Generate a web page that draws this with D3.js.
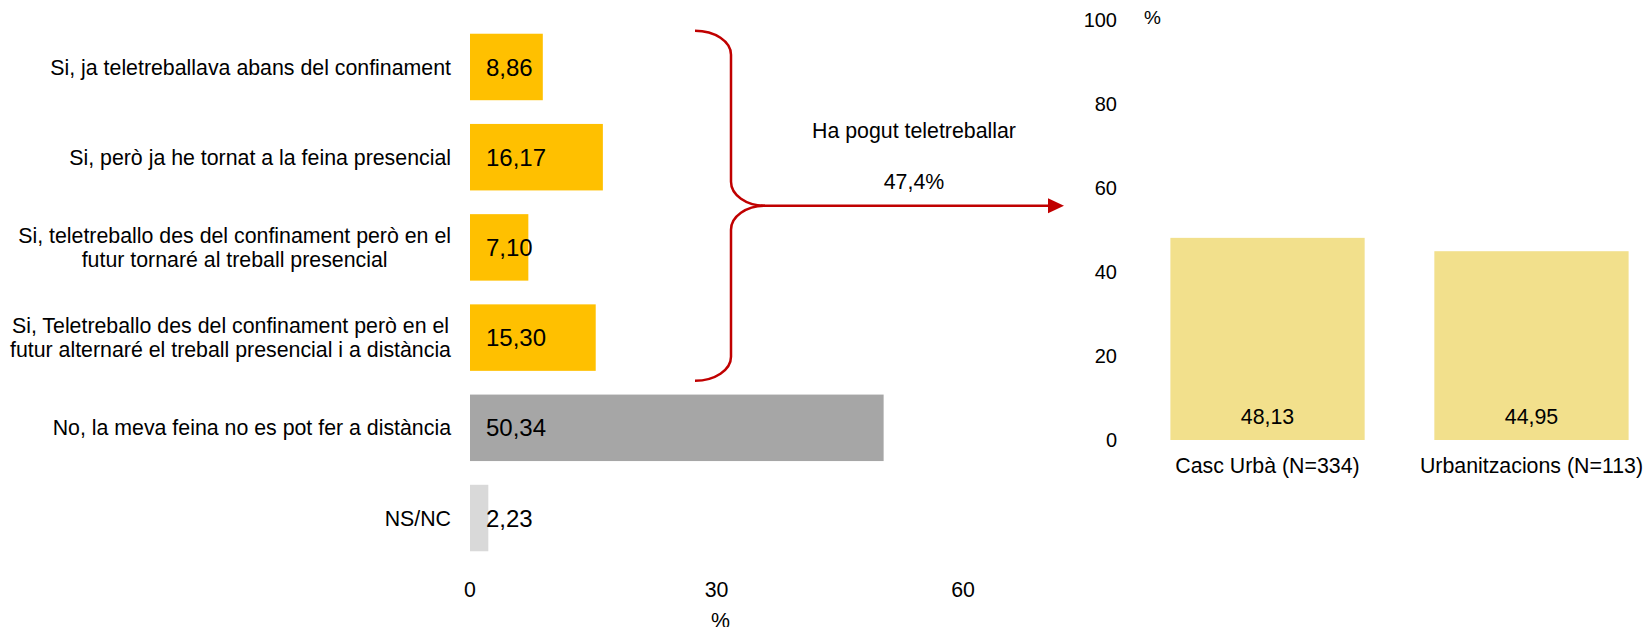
<!DOCTYPE html>
<html>
<head>
<meta charset="utf-8">
<script src="https://cdn.jsdelivr.net/npm/d3@7"></script>
<style>
  html, body { margin: 0; padding: 0; background: #fff; }
  svg { display: block; font-family: "Liberation Sans", Arial, sans-serif; }
</style>
</head>
<body>
<svg id="chart" width="1644" height="627"></svg>
<script>
// ---- data ----
const leftCategories = [
  "Si, ja teletreballava abans del confinament",
  "Si, però ja he tornat a la feina presencial",
  "Si, teletreballo des del confinament però en el\nfutur tornaré al treball presencial",
  "Si, Teletreballo des del confinament però en el\nfutur alternaré el treball presencial i a distància",
  "No, la meva feina no es pot fer a distància",
  "NS/NC"
];
const leftValues = [8.86, 16.17, 7.10, 15.30, 50.34, 2.23];
const leftColors = ["#FFC000", "#FFC000", "#FFC000", "#FFC000", "#A6A6A6", "#D9D9D9"];
const leftTicks = [0, 30, 60];

const rightCategories = ["Casc Urbà (N=334)", "Urbanitzacions (N=113)"];
const rightValues = [48.13, 44.95];
const rightTicks = [0, 20, 40, 60, 80, 100];

const annotationTitle = "Ha pogut teletreballar";
const groupedCount = 4; // first four categories are "Si"

(function () {
const fmt = v => d3.format(".2f")(v).replace(".", ",");
const svg = d3.select("#chart");
const FONT = 21.33;

// ---- left chart ----
const xL = d3.scaleLinear().domain([0, 60]).range([470, 963]);
const yL = d3.scaleBand().domain(leftCategories).range([22, 563]).paddingInner(0.263).paddingOuter(0.13);

svg.append("g").selectAll("rect").data(leftValues).join("rect")
  .attr("x", xL(0))
  .attr("y", (d, i) => yL(leftCategories[i]))
  .attr("width", d => xL(d) - xL(0))
  .attr("height", yL.bandwidth())
  .attr("fill", (d, i) => leftColors[i]);

svg.append("g").selectAll("text").data(leftValues).join("text")
  .attr("x", xL(0) + 16)
  .attr("y", (d, i) => yL(leftCategories[i]) + yL.bandwidth() / 2)
  .attr("dy", "0.36em")
  .attr("font-size", 24)
  .attr("fill", "#000")
  .text(d => fmt(d));

// category labels (multi-line, centered block, right aligned)
const labG = svg.append("g");
leftCategories.forEach((c, i) => {
  const lines = c.split("\n");
  const cy = yL(c) + yL.bandwidth() / 2;
  const lh = 24.3;
  const t = labG.append("text").attr("font-size", FONT).attr("fill", "#000").attr("text-anchor", "middle");
  const spans = lines.map((ln, j) => t.append("tspan").text(ln)
     .attr("y", cy + (j - (lines.length - 1) / 2) * lh).attr("dy", "0.36em"));
  const maxW = d3.max(spans, s => s.node().getComputedTextLength());
  const right = xL(0) - 19;
  spans.forEach(s => s.attr("x", right - maxW / 2));
});

// left x ticks
svg.append("g").selectAll("text").data(leftTicks).join("text")
  .attr("x", d => xL(d)).attr("y", 589).attr("dy", "0.36em")
  .attr("text-anchor", "middle").attr("font-size", FONT).attr("fill", "#000")
  .text(d => d);
svg.append("text").attr("x", xL(30) + 4).attr("y", 620).attr("dy", "0.36em")
  .attr("text-anchor", "middle").attr("font-size", FONT).attr("fill", "#000").text("%");

// ---- right chart ----
const yR = d3.scaleLinear().domain([0, 100]).range([440, 20]);
const xR = d3.scaleBand().domain(rightCategories).range([1130, 1669]).paddingInner(0.264).paddingOuter(0.153);

svg.append("g").selectAll("rect").data(rightValues).join("rect")
  .attr("x", (d, i) => xR(rightCategories[i]))
  .attr("y", d => yR(d))
  .attr("width", xR.bandwidth())
  .attr("height", d => yR(0) - yR(d))
  .attr("fill", "#F2E08C");

svg.append("g").selectAll("text").data(rightValues).join("text")
  .attr("x", (d, i) => xR(rightCategories[i]) + xR.bandwidth() / 2)
  .attr("y", yR(0) - 16)
  .attr("text-anchor", "middle").attr("font-size", FONT).attr("fill", "#000")
  .text(d => fmt(d));

svg.append("g").selectAll("text").data(rightCategories).join("text")
  .attr("x", d => xR(d) + xR.bandwidth() / 2)
  .attr("y", yR(0) + 33)
  .attr("text-anchor", "middle").attr("font-size", FONT).attr("fill", "#000")
  .text(d => d);

svg.append("g").selectAll("text").data(rightTicks).join("text")
  .attr("x", 1117).attr("y", d => yR(d)).attr("dy", "0.36em")
  .attr("text-anchor", "end").attr("font-size", 20).attr("fill", "#000")
  .text(d => d);
svg.append("text").attr("x", 1144).attr("y", 24).attr("font-size", 19).attr("fill", "#000").text("%");

// ---- bracket + arrow annotation ----
const bTop = yL(leftCategories[0]) - 3;
const bBot = yL(leftCategories[groupedCount - 1]) + yL.bandwidth() + 10;
const mid = (bTop + bBot) / 2;
const bx0 = 695, bx1 = 731, bx2 = 765, ry = 24;
const red = "#C00000";
svg.append("path")
  .attr("d", `M${bx0},${bTop} A${bx1 - bx0},${ry} 0 0 1 ${bx1},${bTop + ry} L${bx1},${mid - ry} ` +
             `A${bx2 - bx1},${ry} 0 0 0 ${bx2},${mid} A${bx2 - bx1},${ry} 0 0 0 ${bx1},${mid + ry} ` +
             `L${bx1},${bBot - ry} A${bx1 - bx0},${ry} 0 0 1 ${bx0},${bBot}`)
  .attr("fill", "none").attr("stroke", red).attr("stroke-width", 2.5);
const arrowEnd = 1064;
svg.append("line").attr("x1", bx2 - 4).attr("x2", arrowEnd - 14).attr("y1", mid).attr("y2", mid)
  .attr("stroke", red).attr("stroke-width", 2.5);
svg.append("path").attr("d", `M${arrowEnd - 16},${mid - 7.5} L${arrowEnd},${mid} L${arrowEnd - 16},${mid + 7.5} Z`)
  .attr("fill", red);

const total = d3.sum(leftValues.slice(0, groupedCount));
svg.append("text").attr("x", 914).attr("y", 137.5).attr("text-anchor", "middle")
  .attr("font-size", FONT).attr("fill", "#000").text(annotationTitle);
svg.append("text").attr("x", 914).attr("y", 189).attr("text-anchor", "middle")
  .attr("font-size", FONT).attr("fill", "#000").text(d3.format(".1f")(total).replace(".", ",") + "%");
})();
</script>
</body>
</html>
